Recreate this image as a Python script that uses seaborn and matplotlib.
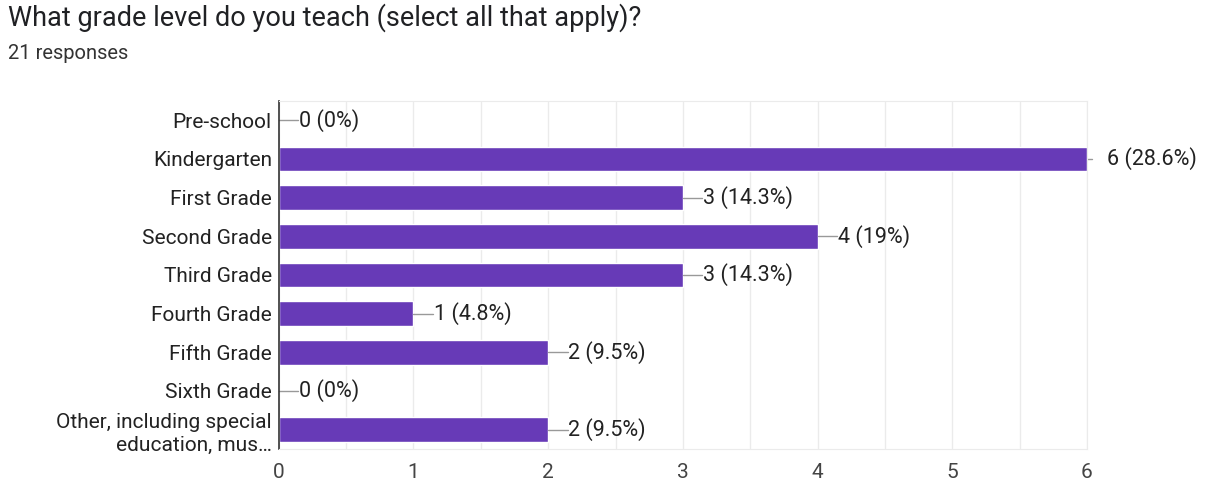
import matplotlib
matplotlib.use("Agg")
import matplotlib.pyplot as plt
import seaborn as sns
import pandas as pd
import numpy as np

categories = ["Pre-school", "Kindergarten", "First Grade", "Second Grade", "Third Grade",
              "Fourth Grade", "Fifth Grade", "Sixth Grade",
              "Other, including special\neducation, mus\u2026"]
counts = [0, 6, 3, 4, 3, 1, 2, 0, 2]
percents = ["0%", "28.6%", "14.3%", "19%", "14.3%", "4.8%", "9.5%", "0%", "9.5%"]
x_ticks = [0, 1, 2, 3, 4, 5, 6]

df = pd.DataFrame({"grade": categories, "count": counts})

sns.set_style("white")
plt.rcParams['font.family'] = ['Roboto', 'DejaVu Sans']

fig = plt.figure(figsize=(12.07, 4.83), dpi=100)
ax = fig.add_axes([0.231, 0.0704, 0.6695, 0.7205])

sns.barplot(data=df, x="count", y="grade", orient="h", color="#673AB7",
            saturation=1, width=0.63, ax=ax)

ax.set_xlim(0, 6)
ax.set_ylim(len(categories) - 0.5, -0.5)
ax.set_xticks(x_ticks)
ax.set_xticks(np.arange(0.5, 6, 1), minor=True)
ax.grid(axis="x", which="both", color="#ebebeb", linewidth=1)
ax.set_axisbelow(True)
ax.tick_params(axis="x", which="both", length=0, pad=10, labelsize=15, colors="#444444")
ax.tick_params(axis="y", length=0, pad=5, labelsize=15, colors="#222222")
for lbl in ax.get_yticklabels():
    lbl.set_linespacing(1.3)
ax.set_xlabel("")
ax.set_ylabel("")

for s in ["top", "right", "bottom"]:
    ax.spines[s].set_color("#ebebeb")
ax.spines["left"].set_color("#333333")
ax.spines["left"].set_linewidth(1.2)

# value labels with short leader lines
for i, (c, p) in enumerate(zip(counts, percents)):
    if c >= 6:
        ax.plot([c, c + 0.04], [i, i], color="#999999", lw=1, clip_on=False)
        ax.text(c + 0.15, i, f"{c} ({p})", va="center", ha="left",
                fontsize=15.5, color="#222222", clip_on=False)
    else:
        ax.plot([c, c + 0.145], [i, i], color="#999999", lw=1, clip_on=False)
        ax.text(c + 0.15, i, f"{c} ({p})", va="center", ha="left",
                fontsize=15.5, color="#222222")

fig.text(0.0066, 0.963, "What grade level do you teach (select all that apply)?",
         fontsize=19.5, color="#202124", va="center", ha="left")
fig.text(0.0066, 0.89, "21 responses", fontsize=14.5, color="#333333",
         va="center", ha="left")

fig.savefig("out.png", dpi=100)
